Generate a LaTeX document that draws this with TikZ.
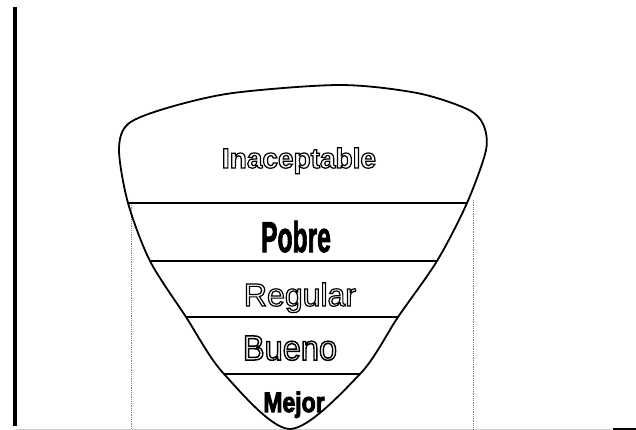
\documentclass[tikz,border=0pt]{standalone}
\usepackage{fontspec}
\setmainfont{Liberation Sans}
\usepackage{graphicx}
\usepackage{tikz}
\usetikzlibrary{positioning}

\newcommand{\hollow}[2][1.2]{\special{pdf:code 1 Tr #1 w}#2\special{pdf:code 0 Tr}}
\newcommand{\heavy}[1]{\special{pdf:code 2 Tr 1 w}#1\special{pdf:code 0 Tr}}

\begin{document}
\begin{tikzpicture}[x=1pt,y=-1pt]
		
		\tikzset{band/.style={line width=1.8pt},
			guide/.style={densely dotted,gray,line width=0.8pt},
			lbl/.style={inner sep=0pt,anchor=base}}
		
		\useasboundingbox (0,0) rectangle (636,430);
		
		% frame pieces
		\draw[line width=4pt] (15,7)--(15,426);
		\draw[gray!40,line width=1pt] (16,429)--(612,429);
		\draw[line width=2pt] (613,429)--(636,429);
		
		% dotted guides
		\draw[guide] (131,203)--(131,430);
		\draw[guide] (473,200)--(473,430);
		
		% outline of the funnel
		\draw[band] plot[smooth cycle] coordinates {(119,150) (128,124) (167,108) (233,93)
			(340,85) (417,93) (467,109) (483,124) (486,150) (467,203) (437,261)
			(398,317) (360,374) (290,429) (224,374) (186,317) (150,261) (128,203)};
		
		\draw[band] (128,203)--(467,203);
		\draw[band] (150,261)--(437,261);
		\draw[band] (186,317)--(398,317);
		\draw[band] (224,374)--(360,374);
		
		\node[lbl] (inacept) at (299,168)
		{\fontsize{28}{28}\selectfont\bfseries\hollow{Inaceptable}};
		\node[lbl] (pobre) at (296,252)
		{\fontsize{41}{41}\selectfont\bfseries\scalebox{0.6}[1.05]{\heavy{Pobre}}};
		\node[lbl] (regular) at (300,306)
		{\fontsize{32}{32}\selectfont\hollow{Regular}};
		\node[lbl] (bueno) at (290,360)
		{\fontsize{35}{35}\selectfont\scalebox{0.93}[1]{\hollow[1.5]{Bueno}}};
		\node[lbl] (mejor) at (294,412)
		{\fontsize{28}{28}\selectfont\bfseries\scalebox{0.82}[1]{\heavy{Mejor}}};
		
	\end{tikzpicture}
\end{document}
